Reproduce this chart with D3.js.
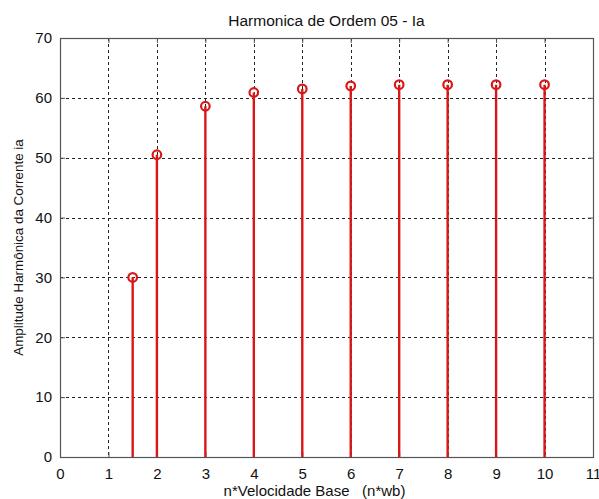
<!DOCTYPE html>
<html>
<head>
<meta charset="utf-8">
<script src="https://cdn.jsdelivr.net/npm/d3@7"></script>
<style>
  body { margin: 0; background: #fff; }
  text { font-family: "Liberation Sans", Arial, sans-serif; fill: #111; }
</style>
</head>
<body>
<svg id="chart" width="599" height="499"></svg>
<script>
// harmonic data
var speeds = [1.5, 2, 3, 4, 5, 6, 7, 8, 9, 10];
var amplitudes = [30, 50.5, 58.6, 60.9, 61.5, 62.0, 62.2, 62.2, 62.2, 62.2];
var xTicks = [0, 1, 2, 3, 4, 5, 6, 7, 8, 9, 10, 11];
var yTicks = [0, 10, 20, 30, 40, 50, 60, 70];

var titleText = "Harmonica de Ordem 05 - Ia";
var xLabel = "n*Velocidade Base   (n*wb)";
var yLabel = "Amplitude Harmônica da Corrente ia";

var svg = d3.select("#chart");
var plotLeft = 60, plotRight = 593, plotTop = 38, plotBottom = 457;

var x = d3.scaleLinear().domain([0, 11]).range([plotLeft, plotRight]);
var y = d3.scaleLinear().domain([0, 70]).range([plotBottom, plotTop]);

var red = "#d81818";

// grid
var grid = svg.append("g").attr("stroke", "#222").attr("stroke-width", 1).attr("stroke-dasharray", "3,3");
grid.selectAll(".vg").data(xTicks.slice(1, -1)).enter().append("line")
  .attr("x1", d => Math.round(x(d)) + 0.5).attr("x2", d => Math.round(x(d)) + 0.5)
  .attr("y1", plotTop).attr("y2", plotBottom);
grid.selectAll(".hg").data(yTicks.slice(1, -1)).enter().append("line")
  .attr("y1", d => Math.round(y(d)) + 0.5).attr("y2", d => Math.round(y(d)) + 0.5)
  .attr("x1", plotLeft).attr("x2", plotRight);

// axes (inward ticks, mirrored box like matlab)
var axisColor = "#555";
function styleAxis(g) {
  g.select(".domain").remove();
  g.selectAll(".tick line").attr("stroke", axisColor);
  g.selectAll(".tick text").style("font-size", "15px").attr("fill", "#111");
}
svg.append("g").attr("transform", "translate(0," + plotBottom + ")")
  .call(d3.axisBottom(x).tickValues(xTicks).tickSizeInner(-5).tickPadding(11).tickFormat(d3.format("d")))
  .call(styleAxis);
svg.append("g").attr("transform", "translate(" + plotLeft + ",0)")
  .call(d3.axisLeft(y).tickValues(yTicks).tickSizeInner(-5).tickPadding(8).tickFormat(d3.format("d")))
  .call(styleAxis);
svg.append("g").attr("transform", "translate(0," + plotTop + ")")
  .call(d3.axisTop(x).tickValues(xTicks).tickSizeInner(-5).tickFormat(""))
  .call(styleAxis);
svg.append("g").attr("transform", "translate(" + plotRight + ",0)")
  .call(d3.axisRight(y).tickValues(yTicks).tickSizeInner(-5).tickFormat(""))
  .call(styleAxis);

svg.append("rect")
  .attr("x", plotLeft + 0.5).attr("y", plotTop + 0.5)
  .attr("width", plotRight - plotLeft).attr("height", plotBottom - plotTop)
  .attr("fill", "none").attr("stroke", axisColor).attr("stroke-width", 1.2);

// stems
var stems = svg.append("g");
stems.selectAll("line").data(speeds).enter().append("line")
  .attr("x1", d => x(d)).attr("x2", d => x(d))
  .attr("y1", y(0)).attr("y2", (d, i) => y(amplitudes[i]))
  .attr("stroke", red).attr("stroke-width", 2.4);
stems.selectAll("circle").data(speeds).enter().append("circle")
  .attr("cx", d => x(d)).attr("cy", (d, i) => y(amplitudes[i]))
  .attr("r", 4.3)
  .attr("fill", "none").attr("stroke", red).attr("stroke-width", 2.2);

// labels
svg.append("text").attr("x", (plotLeft + plotRight) / 2).attr("y", 26)
  .attr("text-anchor", "middle").style("font-size", "15.5px").text(titleText);
svg.append("text").attr("x", (plotLeft + plotRight) / 2 - 12).attr("y", 496)
  .attr("text-anchor", "middle").style("font-size", "15px").attr("xml:space", "preserve").text(xLabel);
svg.append("text").attr("transform", "translate(23," + (plotTop + plotBottom) / 2 + ") rotate(-90)")
  .attr("text-anchor", "middle").style("font-size", "13.4px").text(yLabel);
</script>
</body>
</html>
